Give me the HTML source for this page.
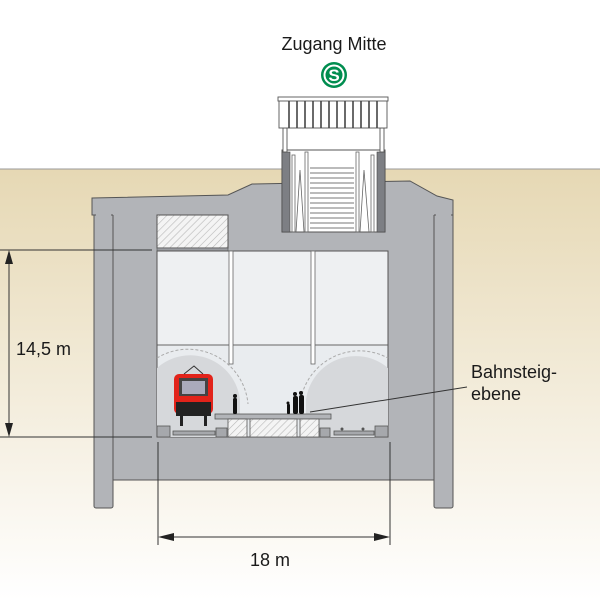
<!DOCTYPE html>
<html><head><meta charset="utf-8"><style>html,body{margin:0;padding:0;background:#fff}svg{display:block}text{font-family:"Liberation Sans",sans-serif;fill:#1a1a1a}</style></head><body>
<svg width="600" height="600" viewBox="0 0 600 600" xmlns="http://www.w3.org/2000/svg">
<defs>
<linearGradient id="g" x1="0" y1="0" x2="0" y2="1"><stop offset="0" stop-color="#e6d8b4"/><stop offset="1" stop-color="#ffffff"/></linearGradient>
<pattern id="h" width="5" height="5" patternUnits="userSpaceOnUse" patternTransform="rotate(45)"><rect width="5" height="5" fill="#f4f4f4"/><line x1="0" y1="0" x2="0" y2="5" stroke="#b8b8b8" stroke-width="1.2"/></pattern>
</defs>
<rect x="0" y="0" width="600" height="600" fill="#fff"/>
<rect x="0" y="169" width="600" height="431" fill="url(#g)"/>
<line x1="0" y1="169" x2="600" y2="169" stroke="#999" stroke-width="1"/>
<!-- structure -->
<g fill="#b2b4b8" stroke="#555" stroke-width="1">
<rect x="94" y="210" width="19" height="298" rx="2"/>
<rect x="434" y="210" width="19" height="298" rx="2"/>
<rect x="113" y="214" width="321" height="266"/>
<polygon points="92,198 228,195 252,184 410,181 437,196 453,200 453,215 92,215"/>
</g>
<rect x="96" y="214" width="15" height="292" fill="#b2b4b8"/>
<rect x="436" y="214" width="15" height="292" fill="#b2b4b8"/>
<rect x="113" y="212" width="321" height="4" fill="#b2b4b8"/>
<line x1="113" y1="215" x2="113" y2="480" stroke="#555"/>
<line x1="434" y1="215" x2="434" y2="480" stroke="#555"/>
<!-- hatched box -->
<rect x="157" y="215" width="71" height="33" fill="url(#h)" stroke="#555"/>
<rect x="157" y="248" width="71" height="3" fill="#9a9ca0" stroke="#555" stroke-width="0.6"/>
<!-- interior -->
<rect x="157" y="251" width="231" height="186" fill="#e9ecef" stroke="#555"/>
<rect x="157" y="251" width="231" height="94" fill="#eef0f2"/>
<line x1="157" y1="345" x2="388" y2="345" stroke="#666"/>
<rect x="157" y="251" width="231" height="186" fill="none" stroke="#555"/>
<!-- tunnels -->
<g stroke="#aaa" stroke-dasharray="3,2" fill="none"><path d="M157,358 A60,60 0 0 1 248,404"/><path d="M300,404 A60,60 0 0 1 388,358"/></g>
<path d="M157,437 L157,368 A50,50 0 0 1 240,400 L240,437 Z" fill="#d6d8db"/>
<path d="M306,437 L306,400 A50,50 0 0 1 388,368 L388,437 Z" fill="#d6d8db"/>
<!-- rods -->
<rect x="229" y="251" width="4" height="113" fill="#fff" stroke="#666" stroke-width="0.8"/>
<rect x="311" y="251" width="4" height="113" fill="#fff" stroke="#666" stroke-width="0.8"/>
<!-- platform -->
<rect x="215" y="414" width="116" height="5" fill="#b2b4b8" stroke="#555" stroke-width="0.8"/>
<rect x="228" y="419" width="19" height="18" fill="url(#h)" stroke="#555" stroke-width="0.8"/>
<rect x="250" y="419" width="47" height="18" fill="url(#h)" stroke="#555" stroke-width="0.8"/>
<rect x="300" y="419" width="19" height="18" fill="url(#h)" stroke="#555" stroke-width="0.8"/>
<g fill="#a6a8ac" stroke="#555" stroke-width="0.8">
<rect x="157" y="426" width="13" height="11"/><rect x="216" y="428" width="11" height="9"/><rect x="320" y="428" width="10" height="9"/><rect x="375" y="426" width="13" height="11"/>
<rect x="173" y="431" width="42" height="4"/><rect x="334" y="431" width="40" height="4"/>
</g>
<circle cx="342" cy="429" r="1.5" fill="#555"/><circle cx="363" cy="429" r="1.5" fill="#555"/>
<!-- train -->
<rect x="174" y="374" width="39" height="40" rx="5" fill="#e2231a"/>
<rect x="179" y="378" width="29" height="18" fill="#444"/>
<rect x="182" y="381" width="23" height="13" fill="#aab"/>
<rect x="176" y="402" width="35" height="14" fill="#222"/>
<rect x="176" y="398" width="35" height="4" fill="#e2231a"/>
<path d="M184,374 L194,366 L203,374" fill="none" stroke="#333"/>
<rect x="180" y="416" width="3" height="10" fill="#222"/><rect x="204" y="416" width="3" height="10" fill="#222"/>
<!-- people -->
<g fill="#111"><circle cx="235" cy="396" r="2"/><rect x="233" y="398" width="4" height="16" rx="1.5"/>
<circle cx="295" cy="394" r="2"/><rect x="293" y="396" width="5" height="18" rx="2"/>
<circle cx="301" cy="393" r="2"/><rect x="299" y="395" width="5" height="19" rx="2"/>
<circle cx="288" cy="403" r="1.5"/><rect x="287" y="404" width="3" height="10" rx="1"/></g>
<!-- stairwell -->
<rect x="282" y="150" width="103" height="82" fill="#fff" stroke="#555"/>
<rect x="282" y="152" width="8" height="80" fill="#7d7f84" stroke="#444" stroke-width="0.6"/>
<rect x="377" y="152" width="8" height="80" fill="#7d7f84" stroke="#444" stroke-width="0.6"/>
<g stroke="#666" fill="none" stroke-width="0.8">
<rect x="292" y="155" width="3" height="77"/><rect x="305" y="152" width="3" height="80"/><rect x="356" y="152" width="3" height="80"/><rect x="371" y="155" width="3" height="77"/>
<path d="M296,232 L300,170 L304,232"/><path d="M360,232 L364,170 L369,232"/>
</g>
<g stroke="#777" stroke-width="1">
<line x1="310" y1="168" x2="354" y2="168"/><line x1="310" y1="173" x2="354" y2="173"/><line x1="310" y1="178" x2="354" y2="178"/><line x1="310" y1="183" x2="354" y2="183"/><line x1="310" y1="188" x2="354" y2="188"/><line x1="310" y1="193" x2="354" y2="193"/><line x1="310" y1="198" x2="354" y2="198"/><line x1="310" y1="203" x2="354" y2="203"/><line x1="310" y1="208" x2="354" y2="208"/><line x1="310" y1="213" x2="354" y2="213"/><line x1="310" y1="218" x2="354" y2="218"/><line x1="310" y1="223" x2="354" y2="223"/><line x1="310" y1="228" x2="354" y2="228"/>
</g>
<!-- canopy -->
<g fill="#fff" stroke="#555" stroke-width="0.9">
<rect x="283" y="128" width="4" height="24"/><rect x="380" y="128" width="4" height="24"/>
<rect x="279" y="100" width="108" height="28"/>
<rect x="278" y="97" width="110" height="4"/>
</g>
<g stroke="#444" stroke-width="1.6">
<line x1="289" y1="101" x2="289" y2="128"/><line x1="297" y1="101" x2="297" y2="128"/><line x1="305" y1="101" x2="305" y2="128"/><line x1="313" y1="101" x2="313" y2="128"/><line x1="321" y1="101" x2="321" y2="128"/><line x1="329" y1="101" x2="329" y2="128"/><line x1="337" y1="101" x2="337" y2="128"/><line x1="345" y1="101" x2="345" y2="128"/><line x1="353" y1="101" x2="353" y2="128"/><line x1="361" y1="101" x2="361" y2="128"/><line x1="369" y1="101" x2="369" y2="128"/><line x1="377" y1="101" x2="377" y2="128"/>
</g>
<!-- S logo -->
<circle cx="334" cy="75" r="13" fill="#008d4f"/>
<circle cx="334" cy="75" r="9.5" fill="none" stroke="#fff" stroke-width="2"/>
<text x="334" y="81" text-anchor="middle" font-size="17" font-weight="bold" style="fill:#fff">S</text>
<text x="334" y="50" text-anchor="middle" font-size="18">Zugang Mitte</text>
<!-- dimensions -->
<g stroke="#333" stroke-width="1" fill="none">
<line x1="0" y1="250" x2="152" y2="250"/><line x1="0" y1="437" x2="152" y2="437"/>
<line x1="9" y1="262" x2="9" y2="426"/>
<line x1="158" y1="442" x2="158" y2="545"/><line x1="390" y1="442" x2="390" y2="545"/>
<line x1="170" y1="537" x2="378" y2="537"/>
<line x1="310" y1="412" x2="467" y2="387"/>
</g>
<g fill="#222"><polygon points="9,250 5,264 13,264"/><polygon points="9,437 5,423 13,423"/>
<polygon points="158,537 174,533 174,541"/><polygon points="390,537 374,533 374,541"/></g>
<text x="16" y="355" font-size="18">14,5 m</text>
<text x="270" y="566" text-anchor="middle" font-size="18">18 m</text>
<text x="471" y="378" font-size="18">Bahnsteig-</text>
<text x="471" y="400" font-size="18">ebene</text>
</svg>
</body></html>
